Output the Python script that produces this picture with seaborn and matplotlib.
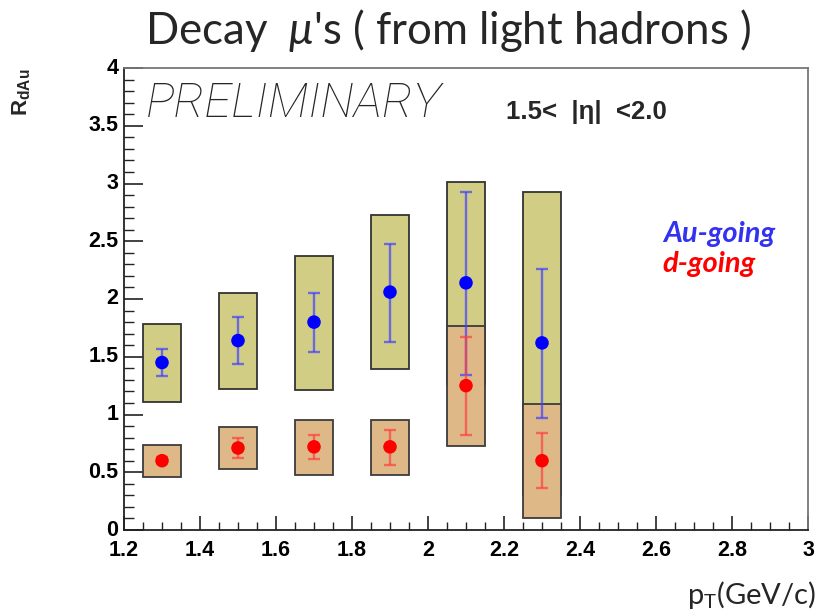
import numpy as np
import matplotlib
matplotlib.use("Agg")
import matplotlib.pyplot as plt
from matplotlib.ticker import MultipleLocator, FuncFormatter
import seaborn as sns

# ---- data ----
pt = [1.3, 1.5, 1.7, 1.9, 2.1, 2.3]
au_val = [1.45, 1.64, 1.80, 2.06, 2.14, 1.62]
au_stat_lo = [1.33, 1.44, 1.54, 1.63, 1.34, 0.97]
au_stat_hi = [1.57, 1.84, 2.05, 2.48, 2.93, 2.26]
au_sys_lo = [1.11, 1.22, 1.21, 1.39, 1.26, 0.30]
au_sys_hi = [1.78, 2.05, 2.37, 2.73, 3.01, 2.93]
d_val = [0.60, 0.71, 0.72, 0.72, 1.25, 0.60]
d_stat_lo = [0.58, 0.62, 0.615, 0.56, 0.82, 0.36]
d_stat_hi = [0.63, 0.80, 0.82, 0.87, 1.67, 0.84]
d_sys_lo = [0.46, 0.53, 0.48, 0.48, 0.73, 0.10]
d_sys_hi = [0.74, 0.89, 0.95, 0.95, 1.77, 1.09]

sns.set_theme(style="white")
plt.rcParams["font.family"] = ["Liberation Sans", "DejaVu Sans"]
plt.rcParams["mathtext.fontset"] = "custom"
plt.rcParams["mathtext.it"] = "Lato:italic"
plt.rcParams["mathtext.rm"] = "Lato"
plt.rcParams["mathtext.bf"] = "Liberation Sans:bold"

fig = plt.figure(figsize=(8.19, 6.11), dpi=100)
ax = fig.add_axes([124/819, 1-530/611, 684/819, 462/611])
ax.set_xlim(1.2, 3.0)
ax.set_ylim(0, 4)

au_val_a = np.array(au_val); d_val_a = np.array(d_val)
ax.bar(pt, np.array(au_sys_hi)-np.array(au_sys_lo), bottom=au_sys_lo, width=0.1,
       color="#D2CD85", edgecolor="#333333", linewidth=1.3, zorder=1)
ax.bar(pt, np.array(d_sys_hi)-np.array(d_sys_lo), bottom=d_sys_lo, width=0.1,
       color="#DEB887", edgecolor="#3c3c3c", linewidth=1.3, zorder=2)

ax.errorbar(pt, au_val, yerr=[au_val_a-np.array(au_stat_lo), np.array(au_stat_hi)-au_val_a],
            fmt="none", ecolor=(0.25, 0.25, 1.0, 0.7), elinewidth=1.7, capsize=4, capthick=1.7, zorder=3)
ax.errorbar(pt, d_val, yerr=[d_val_a-np.array(d_stat_lo), np.array(d_stat_hi)-d_val_a],
            fmt="none", ecolor=(1.0, 0.25, 0.25, 0.7), elinewidth=1.7, capsize=4, capthick=1.7, zorder=3)
sns.scatterplot(x=pt, y=au_val, color="#0000FF", s=95, edgecolor="none", zorder=4, ax=ax)
sns.scatterplot(x=pt, y=d_val, color="#FF0000", s=95, edgecolor="none", zorder=4, ax=ax)

ax.xaxis.set_major_locator(MultipleLocator(0.2))
ax.xaxis.set_minor_locator(MultipleLocator(0.05))
ax.yaxis.set_major_locator(MultipleLocator(0.5))
ax.yaxis.set_minor_locator(MultipleLocator(0.1))
fmt = FuncFormatter(lambda v, p: f"{v:g}")
ax.xaxis.set_major_formatter(fmt)
ax.yaxis.set_major_formatter(fmt)
ax.tick_params(which="both", direction="in", top=False, right=False,
               left=True, bottom=True, colors="#222222")
ax.tick_params(axis="y", which="major", length=14, width=1.2, pad=4)
ax.tick_params(axis="y", which="minor", length=7, width=1.0)
ax.tick_params(axis="x", which="major", length=10, width=1.2, pad=7)
ax.tick_params(axis="x", which="minor", length=5.5, width=1.0)
for lab in ax.get_xticklabels() + ax.get_yticklabels():
    lab.set_fontweight("bold")
    lab.set_fontsize(15.5)
    lab.set_color("black")
for lab in ax.get_yticklabels():
    lab.set_verticalalignment("center")
for s in ["left", "bottom"]:
    ax.spines[s].set_color("#222222")
    ax.spines[s].set_linewidth(1.3)
for s in ["top", "right"]:
    ax.spines[s].set_color("#777777")
    ax.spines[s].set_linewidth(1.3)
ax.set_xlabel(""); ax.set_ylabel("")

fig.text(0.547, 1-30/611, r"Decay  $\mu$'s ( from light hadrons )", fontfamily="Lato",
         fontsize=31.5, ha="center", va="center")
fig.text(22/819, 1-92/611, r"$\mathbf{R}_{\mathbf{dAu}}$", rotation=90, fontsize=16,
         ha="center", va="center")
fig.text(816/819, 1-604/611, r"p$_\mathrm{T}$(GeV/c)", fontfamily="Lato", fontsize=21,
         ha="right", va="baseline")

fig.text(146/819, 1-104/611, "PRELIMINARY", fontfamily="Roboto",
         fontweight="light", fontstyle="italic", fontsize=35, ha="left", va="center")
fig.text(506/819, 1-112/611, "1.5<  |η|  <2.0", fontweight="bold",
         fontsize=18.5, ha="left", va="center")
fig.text(663/819, 1-242/611, "Au-going", fontfamily="Lato",
         fontweight="bold", fontstyle="italic", fontsize=21, color="#3232F0",
         ha="left", va="baseline")
fig.text(662/819, 1-272/611, "d-going", fontfamily="Lato",
         fontweight="bold", fontstyle="italic", fontsize=21, color="#FF0000",
         ha="left", va="baseline")

fig.savefig("out.png", dpi=100)
